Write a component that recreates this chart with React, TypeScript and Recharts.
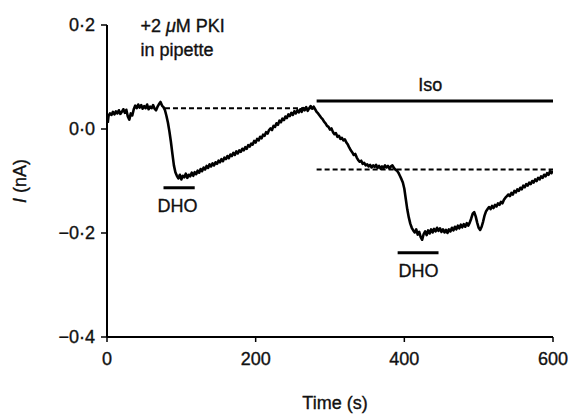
import React from 'react';
import { LineChart, Line, XAxis, YAxis, ReferenceLine, ReferenceDot, Label } from 'recharts';

const xTicks = [0, 200, 400, 600];
const yTicks = [-0.4, -0.2, 0, 0.2];

// [time (s), current (nA)]
const trace: [number, number][] = [
  [1, 0.012], [2, 0.025], [4, 0.030], [6, 0.027], [8, 0.033], [10, 0.028], [12, 0.034], [14, 0.030],
  [16, 0.036], [18, 0.029], [20, 0.033], [22, 0.038], [24, 0.031], [26, 0.037], [28, 0.024], [30, 0.018],
  [32, 0.030], [34, 0.026], [36, 0.038], [38, 0.045], [40, 0.040], [42, 0.047], [44, 0.041], [46, 0.046],
  [48, 0.039], [50, 0.044], [52, 0.040], [54, 0.047], [56, 0.038], [58, 0.043], [60, 0.040], [62, 0.046],
  [64, 0.039], [66, 0.036], [68, 0.043], [70, 0.048], [72, 0.052], [74, 0.045], [76, 0.042], [78, 0.036],
  [80, 0.025], [82, 0.012], [84, -0.005], [86, -0.025], [88, -0.048], [90, -0.070], [92, -0.083], [94, -0.090],
  [96, -0.095], [98, -0.088], [100, -0.097], [102, -0.090], [104, -0.093], [106, -0.086], [108, -0.094], [110, -0.088],
  [112, -0.091], [114, -0.084], [116, -0.090], [118, -0.083], [120, -0.087], [122, -0.080], [124, -0.084], [126, -0.077],
  [128, -0.081], [130, -0.074], [132, -0.078], [134, -0.071], [136, -0.075], [138, -0.068], [140, -0.072], [142, -0.066],
  [144, -0.070], [146, -0.064], [148, -0.067], [150, -0.061], [152, -0.064], [154, -0.058], [156, -0.062], [158, -0.055],
  [160, -0.058], [162, -0.052], [164, -0.056], [166, -0.049], [168, -0.052], [170, -0.046], [172, -0.050], [174, -0.043],
  [176, -0.047], [178, -0.041], [180, -0.044], [182, -0.038], [184, -0.041], [186, -0.035], [188, -0.038], [190, -0.031],
  [192, -0.034], [194, -0.028], [196, -0.030], [198, -0.023], [200, -0.026], [202, -0.019], [204, -0.022], [206, -0.015],
  [208, -0.018], [210, -0.011], [212, -0.013], [214, -0.006], [216, -0.009], [218, -0.002], [220, 0.001], [222, -0.002],
  [224, 0.006], [226, 0.004], [228, 0.011], [230, 0.008], [232, 0.016], [234, 0.013], [236, 0.020], [238, 0.017],
  [240, 0.024], [242, 0.021], [244, 0.028], [246, 0.025], [248, 0.031], [250, 0.027], [252, 0.034], [254, 0.030],
  [256, 0.036], [258, 0.032], [260, 0.038], [262, 0.033], [264, 0.040], [266, 0.036], [268, 0.042], [270, 0.035],
  [272, 0.040], [274, 0.044], [276, 0.039], [278, 0.043], [280, 0.038], [282, 0.033], [284, 0.030], [286, 0.026],
  [288, 0.022], [290, 0.019], [292, 0.014], [294, 0.011], [296, 0.006], [298, 0.004], [300, -0.001], [302, 0.001],
  [304, -0.006], [306, -0.010], [308, -0.008], [310, -0.015], [312, -0.013], [314, -0.019], [316, -0.017], [318, -0.022],
  [320, -0.020], [322, -0.026], [324, -0.030], [326, -0.036], [328, -0.041], [330, -0.045], [332, -0.050], [334, -0.048],
  [336, -0.055], [338, -0.060], [340, -0.063], [342, -0.061], [344, -0.067], [346, -0.065], [348, -0.070], [350, -0.068],
  [352, -0.072], [354, -0.069], [356, -0.074], [358, -0.070], [360, -0.073], [362, -0.069], [364, -0.075], [366, -0.071],
  [368, -0.076], [370, -0.072], [372, -0.075], [374, -0.070], [376, -0.074], [378, -0.071], [380, -0.076], [382, -0.072],
  [384, -0.070], [386, -0.075], [388, -0.078], [390, -0.080], [392, -0.084], [394, -0.090], [396, -0.096], [398, -0.103],
  [400, -0.115], [402, -0.135], [404, -0.155], [406, -0.170], [408, -0.182], [410, -0.190], [412, -0.195], [414, -0.199],
  [416, -0.193], [418, -0.203], [420, -0.198], [422, -0.208], [424, -0.213], [426, -0.202], [428, -0.197], [430, -0.204],
  [432, -0.195], [434, -0.201], [436, -0.193], [438, -0.199], [440, -0.192], [442, -0.197], [444, -0.190], [446, -0.196],
  [448, -0.191], [450, -0.198], [452, -0.193], [454, -0.199], [456, -0.194], [458, -0.200], [460, -0.193], [462, -0.197],
  [464, -0.190], [466, -0.195], [468, -0.188], [470, -0.193], [472, -0.186], [474, -0.191], [476, -0.184], [478, -0.189],
  [480, -0.183], [482, -0.188], [484, -0.181], [486, -0.186], [488, -0.180], [490, -0.172], [492, -0.163], [494, -0.160],
  [496, -0.168], [498, -0.180], [500, -0.190], [502, -0.194], [504, -0.188], [506, -0.178], [508, -0.166], [510, -0.158],
  [512, -0.154], [514, -0.150], [516, -0.154], [518, -0.148], [520, -0.152], [522, -0.146], [524, -0.149], [526, -0.143],
  [528, -0.146], [530, -0.140], [532, -0.143], [534, -0.136], [536, -0.132], [538, -0.129], [540, -0.126], [542, -0.129],
  [544, -0.123], [546, -0.126], [548, -0.119], [550, -0.122], [552, -0.116], [554, -0.119], [556, -0.113], [558, -0.116],
  [560, -0.109], [562, -0.112], [564, -0.106], [566, -0.109], [568, -0.103], [570, -0.106], [572, -0.100], [574, -0.103],
  [576, -0.097], [578, -0.100], [580, -0.094], [582, -0.097], [584, -0.091], [586, -0.094], [588, -0.088], [590, -0.091],
  [592, -0.085], [594, -0.088], [596, -0.081], [598, -0.085], [599, -0.080],
];

// dashed baselines [from, to, level]
const baselineCtrl: [number, number, number] = [78, 280, 0.040];
const baselineIso: [number, number, number] = [282, 600, -0.078];
// application bars [from, to, level]
const isoBar: [number, number, number] = [282, 600, 0.054];
const dhoBar1: [number, number, number] = [76, 118, -0.113];
const dhoBar2: [number, number, number] = [391, 446, -0.238];

// text annotations
const noteLine1 = ['+2 ', '\u03bc', 'M PKI'];
const noteLine2 = 'in pipette';
const isoLabel = 'Iso';
const dhoLabel = 'DHO';

const data = trace.map(([t, i]) => ({ t, i }));

const FONT = '"Liberation Sans", Arial, Helvetica, sans-serif';
const FS = 18;
const INK = '#111';
const TEXT_STROKE = 0.35;

const fmtTick = (v: number) => {
  const s = Math.abs(v).toFixed(1).replace('.', '\u00b7');
  return v < -1e-9 ? '\u2212' + s : s;
};

const makeText = (value: React.ReactNode, dx: number, dy: number, anchor: 'start' | 'middle' | 'end') => (props: any) => {
  const vb = props.viewBox || {};
  const cx = (vb.x ?? 0) + (vb.width ?? 0) / 2;
  const cy = (vb.y ?? 0) + (vb.height ?? 0) / 2;
  return (
    <text
      x={cx + dx}
      y={cy + dy}
      textAnchor={anchor}
      fontFamily={FONT}
      fontSize={FS}
      fill={INK}
      stroke={INK}
      strokeWidth={TEXT_STROKE}
    >
      {value}
    </text>
  );
};

const YLabel = (props: any) => {
  const vb = props.viewBox || {};
  const cx = 26;
  const cy = (vb.y ?? 0) + (vb.height ?? 0) / 2;
  return (
    <text
      x={cx}
      y={cy}
      transform={`rotate(-90, ${cx}, ${cy})`}
      textAnchor="middle"
      fontFamily={FONT}
      fontSize={FS}
      fill={INK}
      stroke={INK}
      strokeWidth={TEXT_STROKE}
    >
      <tspan fontStyle="italic">I</tspan>
      <tspan> (nA)</tspan>
    </text>
  );
};

const XLabel = (props: any) => {
  const vb = props.viewBox || {};
  const cx = (vb.x ?? 0) + (vb.width ?? 0) / 2 + 5;
  const y = (vb.y ?? 0) + 72;
  return (
    <text
      x={cx}
      y={y}
      textAnchor="middle"
      fontFamily={FONT}
      fontSize={FS}
      fill={INK}
      stroke={INK}
      strokeWidth={TEXT_STROKE}
    >
      Time (s)
    </text>
  );
};

const seg = (b: [number, number, number]) => [
  { x: b[0], y: b[2] },
  { x: b[1], y: b[2] },
];

const tickStyle = { fill: INK, fontSize: FS, fontFamily: FONT, stroke: INK, strokeWidth: TEXT_STROKE };

export default function App() {
  return (
    <div style={{ position: 'absolute', left: 0, top: 0, width: 576, height: 414, background: '#fff' }}>
      <LineChart width={576} height={414} data={data} margin={{ top: 25, right: 23, bottom: 0, left: 0 }}>
        <XAxis
          dataKey="t"
          type="number"
          domain={[0, 600]}
          ticks={xTicks}
          allowDataOverflow
          height={77}
          tickSize={5}
          tickMargin={10}
          axisLine={{ stroke: '#000', strokeWidth: 2 }}
          tickLine={{ stroke: '#000', strokeWidth: 1.5 }}
          tick={tickStyle}
        >
          <Label content={XLabel} />
        </XAxis>
        <YAxis
          type="number"
          domain={[-0.4, 0.2]}
          ticks={yTicks}
          allowDataOverflow
          width={107}
          tickSize={6}
          tickMargin={6}
          tickFormatter={fmtTick}
          axisLine={{ stroke: '#000', strokeWidth: 2 }}
          tickLine={{ stroke: '#000', strokeWidth: 1.5 }}
          tick={tickStyle}
        >
          <Label content={YLabel} />
        </YAxis>
        <ReferenceLine segment={seg(baselineCtrl)} stroke="#000" strokeWidth={2} strokeDasharray="5 3" />
        <ReferenceLine segment={seg(baselineIso)} stroke="#000" strokeWidth={2} strokeDasharray="5 3" />
        <ReferenceLine segment={seg(isoBar)} stroke="#000" strokeWidth={3} />
        <ReferenceLine segment={seg(dhoBar1)} stroke="#000" strokeWidth={3} />
        <ReferenceLine segment={seg(dhoBar2)} stroke="#000" strokeWidth={3} />
        <Line
          type="linear"
          dataKey="i"
          stroke="#000"
          strokeWidth={2.6}
          strokeLinejoin="round"
          dot={false}
          isAnimationActive={false}
        />
        <ReferenceDot
          x={45}
          y={0.2}
          r={0}
          fill="none"
          stroke="none"
          label={makeText(
            <>
              <tspan>{noteLine1[0]}</tspan>
              <tspan fontStyle="italic">{noteLine1[1]}</tspan>
              <tspan>{noteLine1[2]}</tspan>
            </>,
            0,
            7,
            'start'
          )}
        />
        <ReferenceDot x={45} y={0.2} r={0} fill="none" stroke="none" label={makeText(noteLine2, 0, 31, 'start')} />
        <ReferenceDot x={435} y={isoBar[2]} r={0} fill="none" stroke="none" label={makeText(isoLabel, 0, -10, 'middle')} />
        <ReferenceDot x={95} y={dhoBar1[2]} r={0} fill="none" stroke="none" label={makeText(dhoLabel, 0, 24, 'middle')} />
        <ReferenceDot x={419} y={dhoBar2[2]} r={0} fill="none" stroke="none" label={makeText(dhoLabel, 0, 24, 'middle')} />
      </LineChart>
    </div>
  );
}
